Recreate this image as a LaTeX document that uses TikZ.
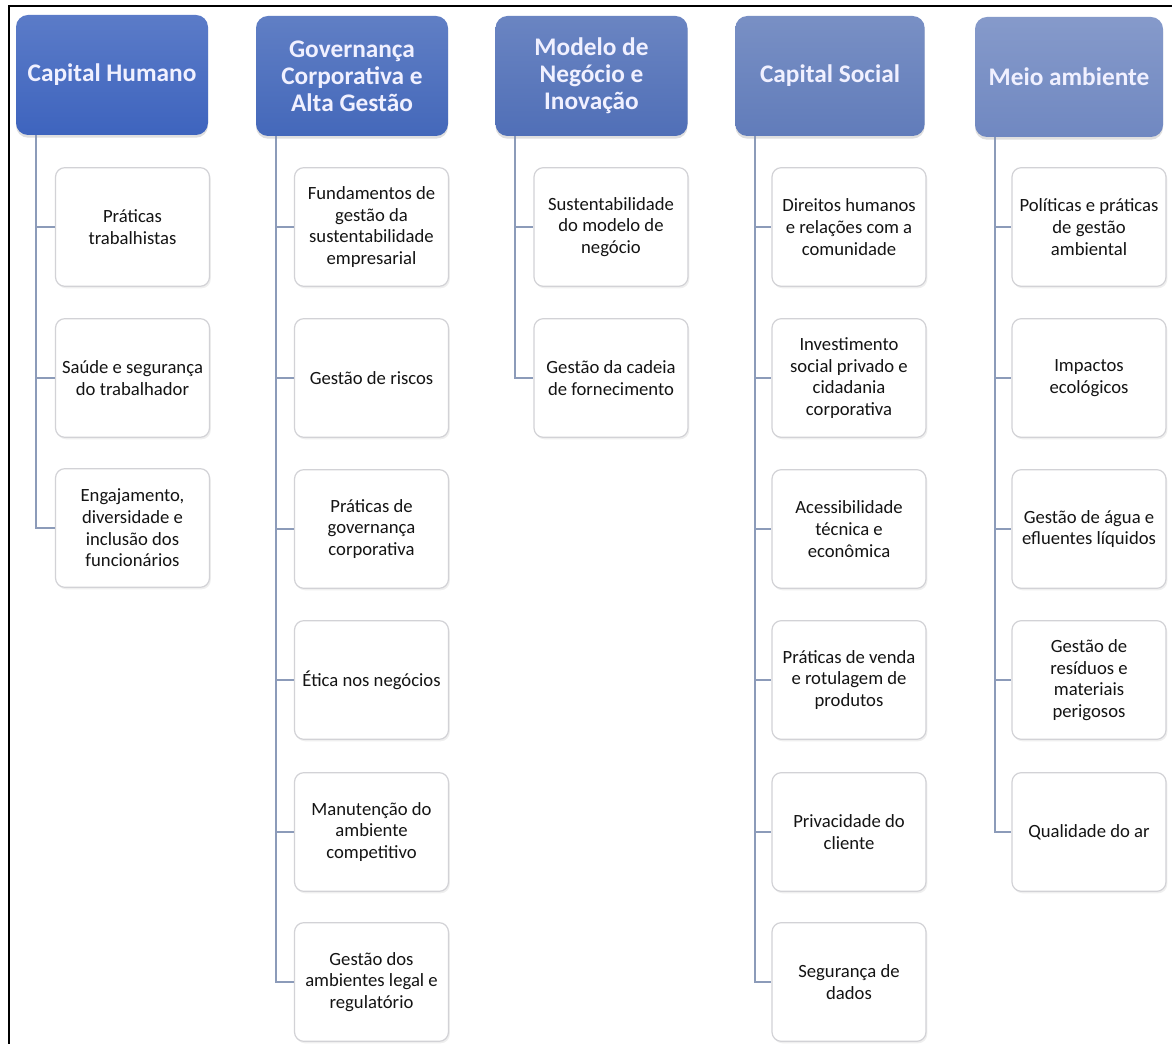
\documentclass[tikz,border=0pt]{standalone}
\usepackage{fontspec}
\setmainfont{Carlito}
\usetikzlibrary{shadows,calc}
\definecolor{hA}{RGB}{62,100,190}
\definecolor{hB}{RGB}{68,104,186}
\definecolor{hC}{RGB}{80,111,183}
\definecolor{hD}{RGB}{97,124,186}
\definecolor{hE}{RGB}{112,136,193}
\definecolor{conncol}{RGB}{140,155,185}
\definecolor{boxline}{RGB}{210,210,214}
\definecolor{txt}{RGB}{20,20,20}
\tikzset{
  hdr/.style={rounded corners=9pt, minimum width=144pt, minimum height=90pt,
    font=\fontsize{19}{20.3}\selectfont\bfseries, text=white!94!blue, align=center,
    drop shadow={opacity=0.25, shadow xshift=0pt, shadow yshift=-2pt}, inner sep=2pt},
  item/.style={draw=boxline, line width=0.9pt, rounded corners=7pt, fill=white,
    minimum width=115.5pt, minimum height=89pt, align=center, text=txt,
    font=\fontsize{14}{16.2}\selectfont, inner sep=1pt,
    drop shadow={opacity=0.12, shadow xshift=1pt, shadow yshift=-1.5pt}},
  conn/.style={draw=conncol, line width=1.5pt},
}
\begin{document}
\begin{tikzpicture}[x=0.75pt,y=-0.75pt]
\useasboundingbox (0,0) rectangle (1172,1044);
\fill[white] (0,0) rectangle (1172,1044);
\draw[line width=1.7pt, black] (9,1044) -- (9,6) -- (1172,6);

% headers
\node[hdr, top color=hA!85!white, bottom color=hA] (h1) at (112,75) {Capital Humano};
\node[hdr, top color=hB!85!white, bottom color=hB] (h2) at (352,76) {Governança\\Corporativa e\\Alta Gestão};
\node[hdr, top color=hC!85!white, bottom color=hC] (h3) at (591.5,76) {Modelo de\\Negócio e\\Inovação};
\node[hdr, top color=hD!85!white, bottom color=hD, minimum width=142pt] (h4) at (830,76) {Capital Social};
\node[hdr, top color=hE!85!white, bottom color=hE, minimum width=141pt] (h5) at (1069,77) {Meio ambiente};

% column 1
\node[item] (c11) at (132.5,227) {Práticas\\trabalhistas};
\node[item] (c12) at (132.5,378) {Saúde e segurança\\do trabalhador};
\node[item] (c13) at (132.5,528) {Engajamento,\\diversidade e\\inclusão dos\\funcionários};

% column 2
\node[item] (c21) at (371.5,227) {Fundamentos de\\gestão da\\sustentabilidade\\empresarial};
\node[item] (c22) at (371.5,378) {Gestão de riscos};
\node[item] (c23) at (371.5,529) {Práticas de\\governança\\corporativa};
\node[item] (c24) at (371.5,680) {Ética nos negócios};
\node[item] (c25) at (371.5,832) {Manutenção do\\ambiente\\competitivo};
\node[item] (c26) at (371.5,982) {Gestão dos\\ambientes legal e\\regulatório};

% column 3
\node[item] (c31) at (611,227) {Sustentabilidade\\do modelo de\\negócio};
\node[item] (c32) at (611,378) {Gestão da cadeia\\de fornecimento};

% column 4
\node[item] (c41) at (849,227) {Direitos humanos\\e relações com a\\comunidade};
\node[item] (c42) at (849,378) {Investimento\\social privado e\\cidadania\\corporativa};
\node[item] (c43) at (849,529) {Acessibilidade\\técnica e\\econômica};
\node[item] (c44) at (849,680) {Práticas de venda\\e rotulagem de\\produtos};
\node[item] (c45) at (849,832) {Privacidade do\\cliente};
\node[item] (c46) at (849,982) {Segurança de\\dados};

% column 5
\node[item] (c51) at (1089,227) {Políticas e práticas\\de gestão\\ambiental};
\node[item] (c52) at (1089,378) {Impactos\\ecológicos};
\node[item] (c53) at (1089,529) {Gestão de água e\\efluentes líquidos};
\node[item] (c54) at (1089,680) {Gestão de\\resíduos e\\materiais\\perigosos};
\node[item] (c55) at (1089,832) {Qualidade do ar};

% connectors
\coordinate (v1) at ($(h1.south west)+(20,0)$);
\coordinate (v2) at ($(h2.south west)+(20,0)$);
\coordinate (v3) at ($(h3.south west)+(20,0)$);
\coordinate (v4) at ($(h4.south west)+(20,0)$);
\coordinate (v5) at ($(h5.south west)+(20,0)$);

\draw[conn] (v1) |- (c13.west);
\foreach \n in {c11,c12} \draw[conn] (v1 |- \n.west) -- (\n.west);
\draw[conn] (v2) |- (c26.west);
\foreach \n in {c21,c22,c23,c24,c25} \draw[conn] (v2 |- \n.west) -- (\n.west);
\draw[conn] (v3) |- (c32.west);
\foreach \n in {c31} \draw[conn] (v3 |- \n.west) -- (\n.west);
\draw[conn] (v4) |- (c46.west);
\foreach \n in {c41,c42,c43,c44,c45} \draw[conn] (v4 |- \n.west) -- (\n.west);
\draw[conn] (v5) |- (c55.west);
\foreach \n in {c51,c52,c53,c54} \draw[conn] (v5 |- \n.west) -- (\n.west);
\end{tikzpicture}
\end{document}
